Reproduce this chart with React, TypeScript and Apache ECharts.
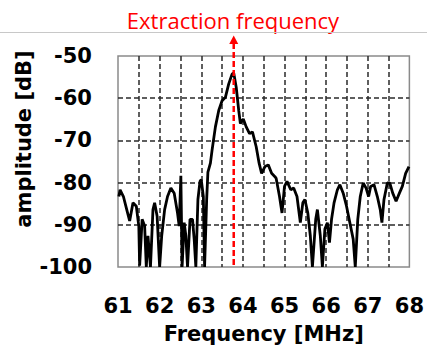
import React, { useEffect, useRef } from "react";
import * as echarts from "echarts";

const freqMHz = [
  61.02, 61.05, 61.13, 61.21, 61.28, 61.36, 61.44, 61.5, 61.52, 61.58,
  61.64, 61.68, 61.72, 61.78, 61.84, 61.88, 61.94, 62.0, 62.05, 62.12,
  62.19, 62.27, 62.35, 62.43, 62.47, 62.51, 62.54, 62.59, 62.63, 62.67,
  62.73, 62.79, 62.83, 62.87, 62.92, 62.97, 63.0, 63.05, 63.08, 63.13,
  63.16, 63.22, 63.26, 63.34, 63.42, 63.5, 63.58, 63.66, 63.74, 63.78,
  63.84, 63.9, 63.94, 64.01, 64.08, 64.16, 64.23, 64.32, 64.39, 64.45,
  64.53, 64.61, 64.69, 64.77, 64.8, 64.88, 64.94, 65.0, 65.06, 65.15,
  65.22, 65.3, 65.38, 65.44, 65.49, 65.56, 65.62, 65.67, 65.75, 65.79,
  65.86, 65.91, 65.97, 66.03, 66.08, 66.13, 66.19, 66.27, 66.33, 66.41,
  66.49, 66.57, 66.65, 66.7, 66.76, 66.82, 66.89, 66.96, 67.02, 67.07,
  67.15, 67.23, 67.3, 67.34, 67.39, 67.47, 67.53, 67.6, 67.68, 67.76,
  67.83, 67.91, 67.99,
];

const amplitudeDb = [
  -83.3, -81.7, -83.3, -86.4, -89.1, -84.8, -85.6, -90.3, -99.7, -88.7,
  -90.3, -100, -92.6, -100, -86.4, -84.8, -88, -100, -92.6, -86.4,
  -83.3, -81.3, -82.5, -87.2, -90.3, -78.4, -100, -89.5, -92.6, -100,
  -88.7, -88.7, -93.4, -100, -84, -79.7, -79.3, -83.3, -100, -84,
  -77.5, -75.4, -72.3, -66.8, -62.9, -60.6, -59.8, -56.6, -54.3, -54.0,
  -57.4, -62.9, -66, -64.9, -66.8, -68.4, -68, -71.5, -75.4, -77.8,
  -76.2, -75.8, -77.8, -78.6, -79, -83.3, -87.2, -80.9, -79.7, -81.7,
  -81.3, -83.3, -89.5, -84.8, -84, -87.2, -92.6, -100, -88.7, -86.4,
  -92.6, -100, -91, -89.5, -94.2, -88.7, -84.8, -81.7, -80.5, -82.5,
  -85.6, -89.5, -93.4, -100, -88.7, -83.3, -80.1, -81.3, -83.3, -80.9,
  -80.5, -83.3, -86.4, -89.5, -84, -80.1, -80.1, -82.5, -84.4, -82.5,
  -80.9, -77.8, -76.2,
];

const EXTRACTION_FREQ = 63.78;
const X_MIN = 61;
const X_MAX = 68;
const Y_MIN = -100;
const Y_MAX = -50;

const BOLD_FONT = "DejaVu Sans";

export default function App() {
  const ref = useRef<HTMLDivElement>(null);

  useEffect(() => {
    if (!ref.current) return;
    const chart = echarts.init(ref.current, null, { renderer: "svg" });
    const data = freqMHz.map((f, i) => [f, amplitudeDb[i]]);
    const gridLine = {
      show: true,
      showMinLine: false,
      showMaxLine: false,
      lineStyle: { color: "#2a2a2a", width: 1.5, type: [5, 3] as any },
    };
    chart.setOption({
      animation: false,
      backgroundColor: "#ffffff",
      grid: {
        left: 118,
        top: 56,
        right: 14.5,
        bottom: 92,
        show: true,
        borderColor: "#8a8a8a",
        borderWidth: 1.5,
        backgroundColor: "transparent",
      },
      xAxis: {
        type: "value",
        min: X_MIN,
        max: X_MAX,
        interval: 0.5,
        name: "Frequency [MHz]",
        nameLocation: "middle",
        nameGap: 56,
        nameTextStyle: {
          fontFamily: BOLD_FONT,
          fontWeight: "bold",
          fontSize: 21,
          color: "#000",
        },
        axisLine: { show: false },
        axisTick: { show: false },
        axisLabel: {
          fontFamily: BOLD_FONT,
          fontWeight: "bold",
          fontSize: 21,
          color: "#000",
          margin: 28,
          formatter: (v: number) => (Number.isInteger(v) ? String(v) : ""),
        },
        splitLine: gridLine,
      },
      yAxis: {
        type: "value",
        min: Y_MIN,
        max: Y_MAX,
        interval: 10,
        axisLine: { show: false },
        axisTick: { show: false },
        axisLabel: {
          fontFamily: BOLD_FONT,
          fontWeight: "bold",
          fontSize: 21,
          color: "#000",
          margin: 26,
        },
        splitLine: gridLine,
      },
      series: [
        {
          type: "line",
          data,
          symbol: "none",
          clip: true,
          lineStyle: { color: "#000", width: 2.8 },
          z: 5,
        },
      ],
    });

    const px = chart.convertToPixel({ xAxisIndex: 0 }, EXTRACTION_FREQ) as number;
    const pyBottom = chart.convertToPixel({ yAxisIndex: 0 }, Y_MIN) as number;

    chart.setOption({
      graphic: [
        {
          type: "line",
          id: "topRule",
          shape: { x1: 0, y1: 32.5, x2: 427, y2: 32.5 },
          style: { stroke: "#c8c8c8", lineWidth: 1 },
          z: 1,
        },
        {
          type: "text",
          id: "yTitle",
          x: 24,
          y: 139,
          rotation: Math.PI / 2,
          style: {
            text: "amplitude [dB]",
            fontFamily: BOLD_FONT,
            fontWeight: "bold",
            fontSize: 21,
            fill: "#000",
            align: "center",
            verticalAlign: "middle",
          },
        },
        {
          type: "text",
          id: "extractLabel",
          x: 233,
          y: 20,
          style: {
            text: "Extraction frequency",
            fontFamily: "Open Sans",
            fontSize: 22,
            fill: "#ff0000",
            align: "center",
            verticalAlign: "middle",
          },
        },
        {
          type: "line",
          id: "extractLine",
          shape: { x1: px, y1: 43, x2: px, y2: pyBottom },
          style: { stroke: "#ff0000", lineWidth: 2.5, lineDash: [6, 3] },
          z: 20,
        },
        {
          type: "polygon",
          id: "extractArrow",
          shape: {
            points: [
              [px, 35.5],
              [px - 4.5, 44],
              [px + 4.5, 44],
            ],
          },
          style: { fill: "#ff0000" },
          z: 20,
        },
      ],
    });

    return () => chart.dispose();
  }, []);

  return (
    <div
      ref={ref}
      style={{
        position: "fixed",
        left: 0,
        top: 0,
        width: 427,
        height: 359,
        background: "#fff",
      }}
    />
  );
}
